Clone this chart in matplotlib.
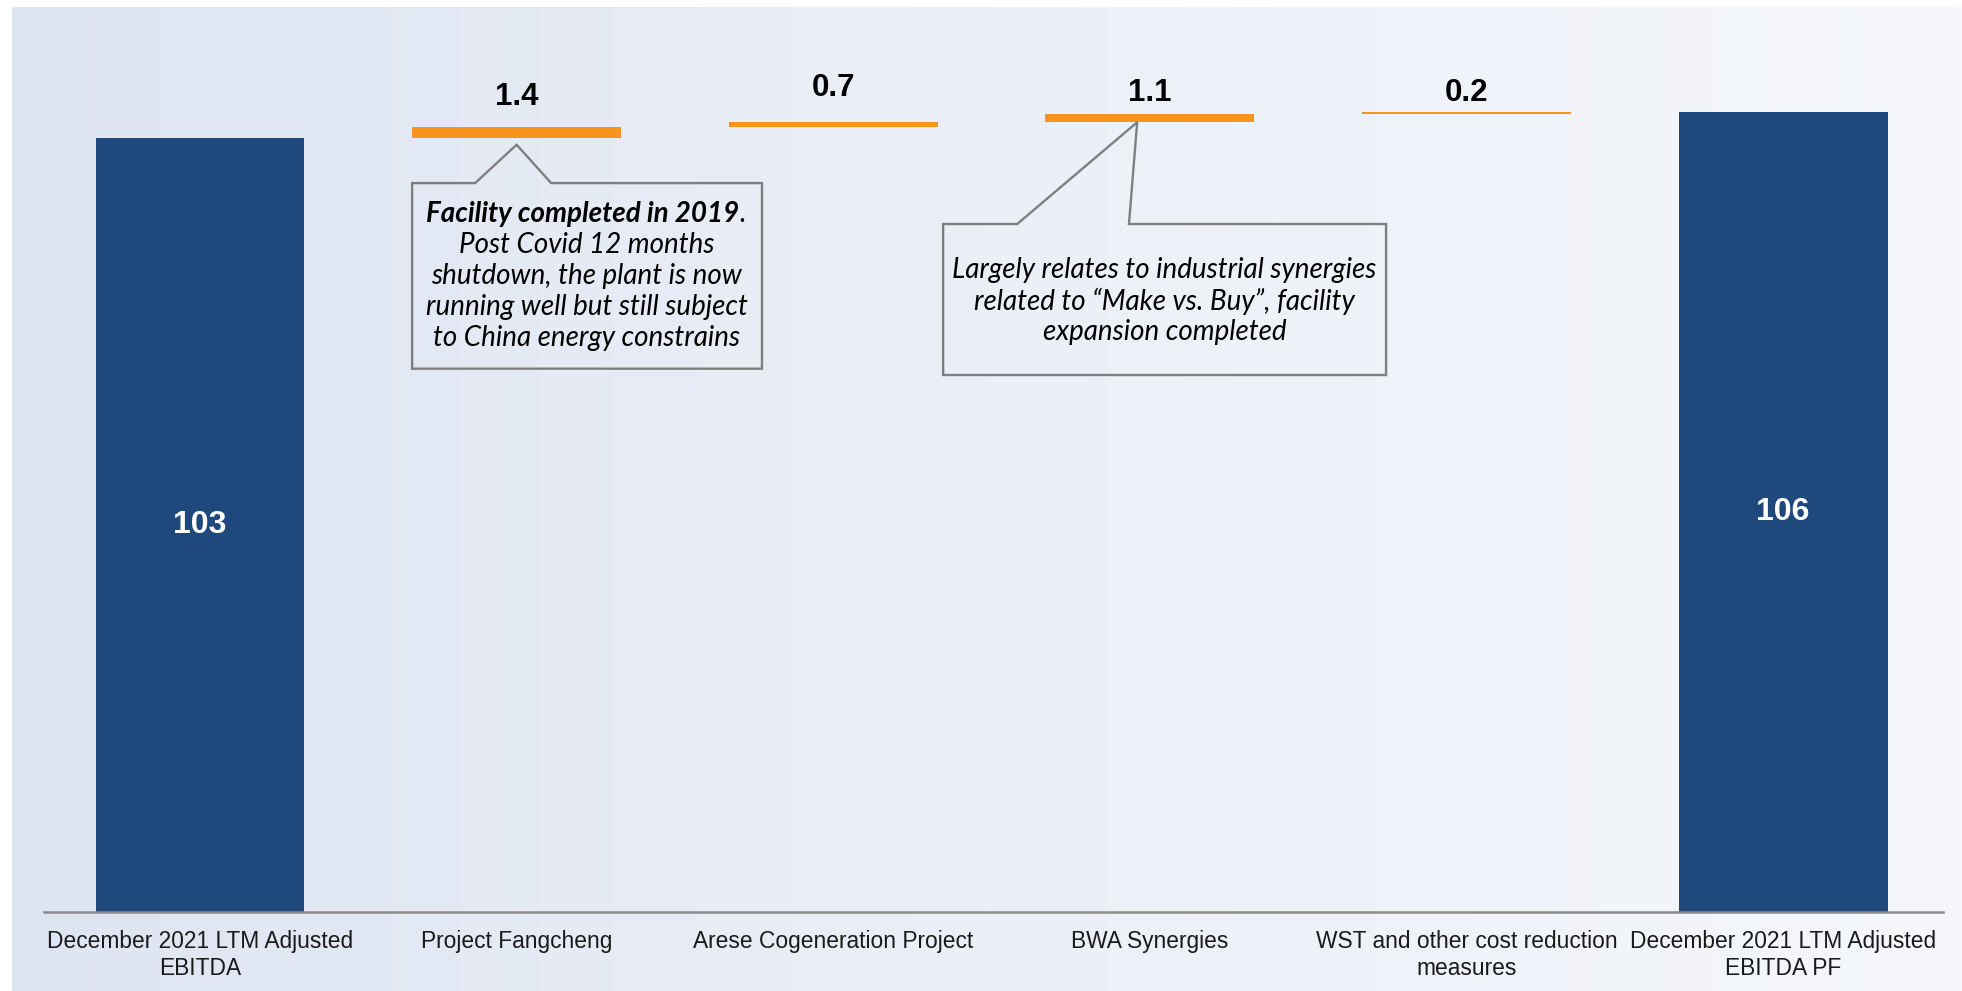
import numpy as np
import matplotlib.pyplot as plt
from matplotlib.patches import Polygon
from matplotlib.colors import LinearSegmentedColormap

categories = ["December 2021 LTM Adjusted\nEBITDA", "Project Fangcheng",
              "Arese Cogeneration Project", "BWA Synergies",
              "WST and other cost reduction\nmeasures",
              "December 2021 LTM Adjusted\nEBITDA PF"]
start_value = 103.0
increments = [1.4, 0.7, 1.1, 0.2]
end_value = 106.4

note_fangcheng_title = "Facility completed in 2019"
note_fangcheng = ["Post Covid 12 months", "shutdown, the plant is now",
                  "running well but still subject", "to China energy constrains"]
note_bwa = ["Largely relates to industrial synergies",
            "related to \u201cMake vs. Buy\u201d, facility",
            "expansion completed"]

navy = "#1f497d"
orange = "#f7941d"
grey = "#7f7f7f"
W, H = 1962, 991

plt.rcParams["font.family"] = ["Liberation Sans", "DejaVu Sans"]
fig = plt.figure(figsize=(W / 100, H / 100), dpi=100)
fig.patch.set_facecolor("white")

# gradient background panel
bg = fig.add_axes([12 / W, 0, 1 - 12 / W, 1 - 7 / H], zorder=-1)
cmap = LinearSegmentedColormap.from_list("bg", ["#dee5f2", "#ebeff7", "#f5f7fb"])
bg.imshow(np.linspace(0, 1, 256)[None, :], aspect="auto", cmap=cmap, extent=[0, 1, 0, 1])
bg.axis("off")

ax = fig.add_axes([44 / W, 1 - 912 / H, (1943 - 44) / W, (912 - 20) / H])
ax.patch.set_alpha(0)
x = np.arange(len(categories))
bottoms = start_value + np.concatenate([[0], np.cumsum(increments)[:-1]])

ax.bar(x[0], start_value, width=0.66, color=navy)
ax.bar(x[-1], end_value, width=0.66, color=navy)
ax.bar(x[1:-1], increments, bottom=bottoms, width=0.66, color=orange)

for xi, v in [(x[0], start_value), (x[-1], end_value)]:
    ax.text(xi, v / 2, f"{v:.0f}", ha="center", va="center", color="white",
            fontsize=23, fontweight="bold")

offsets = [11, 14, 4, 3]
for xi, b, v, off in zip(x[1:-1], bottoms, increments, offsets):
    ax.annotate(f"{v:.1f}", xy=(xi, b + v), xytext=(0, off), textcoords="offset points",
                ha="center", va="bottom", fontsize=22.5, fontweight="bold", color="black")

ax.set_xlim(-0.4927, 5.505)
ax.set_ylim(0, 118.7)
for s in ["top", "left", "right"]:
    ax.spines[s].set_visible(False)
ax.spines["bottom"].set_color("#8c8c8c")
ax.spines["bottom"].set_linewidth(1.8)
ax.set_yticks([])
ax.set_xticks(x, categories, fontsize=16.4, color="#1a1a1a")
ax.tick_params(axis="x", length=0, pad=13)

# callout 1 (Project Fangcheng)
apex1 = (x[1], bottoms[0] - 0.9)
box1 = [(0.869, 97.0), apex1, (1.109, 97.0), (1.775, 97.0), (1.775, 72.3),
        (0.670, 72.3), (0.670, 97.0)]
ax.add_patch(Polygon(box1, closed=True, facecolor="none", edgecolor=grey, lw=1.7))
step = 4.125
fs = 20
cx1, cy1 = 1.222, 84.65
ys = [cy1 + (2 - i) * step for i in range(5)]
t1 = ax.text(cx1 - 0.012, ys[0], note_fangcheng_title, ha="center", va="center",
             fontsize=fs, family="Lato", style="italic", fontweight="bold")
ax.annotate(".", xy=(1, 0.5), xycoords=t1, ha="left", va="center",
            fontsize=fs, family="Lato", style="italic")
for yy, line in zip(ys[1:], note_fangcheng):
    ax.text(cx1, yy, line, ha="center", va="center", fontsize=fs,
            family="Lato", style="italic")

# callout 2 (BWA Synergies)
apex2 = (x[3] - 0.04, bottoms[2])
box2 = [(2.581, 91.55), apex2, (2.934, 91.55), (3.746, 91.55), (3.746, 71.46),
        (2.347, 71.46), (2.347, 91.55)]
ax.add_patch(Polygon(box2, closed=True, facecolor="none", edgecolor=grey, lw=1.7))
cx2, cy2 = 3.046, 81.3
for i, line in enumerate(note_bwa):
    ax.text(cx2, cy2 + (1 - i) * step, line, ha="center", va="center", fontsize=fs,
            family="Lato", style="italic")

fig.savefig("out.png", dpi=100)
